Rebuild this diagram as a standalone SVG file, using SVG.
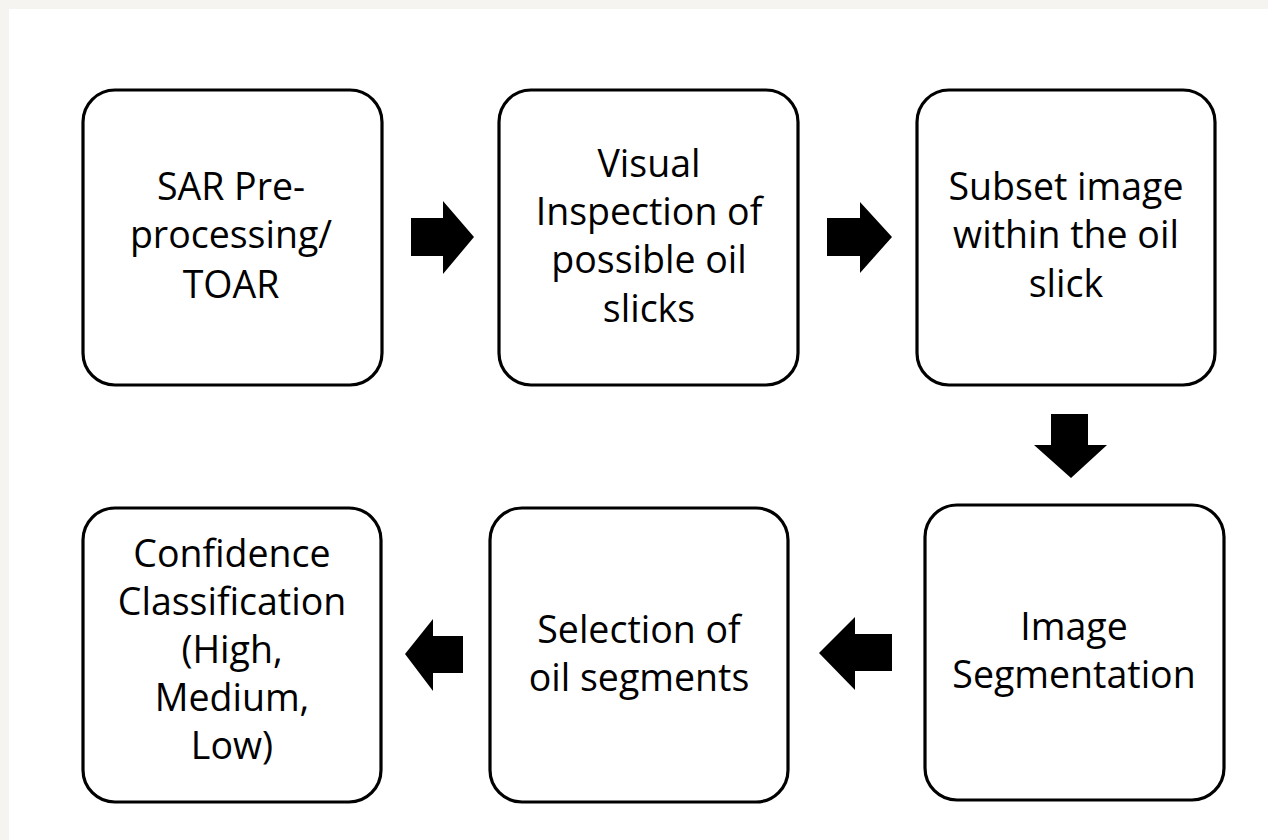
<svg xmlns="http://www.w3.org/2000/svg" width="1268" height="840" viewBox="0 0 1268 840">
<style>
.box{fill:#fff;stroke:#000;stroke-width:3.2}
.lbl{font-family:"Open Sans","Liberation Sans",sans-serif;font-size:37.5px;fill:#000;text-anchor:middle}
.arr{fill:#000}
</style>
<rect x="0" y="0" width="1268" height="840" fill="#f5f4f0"/>
<rect x="9" y="9" width="1259" height="831" fill="#fff"/>
<g id="n1"><rect class="box" x="83" y="90" width="299" height="295" rx="32"/>
<text class="lbl"><tspan x="231" y="200">SAR Pre-</tspan><tspan x="231" y="248">processing/</tspan><tspan x="231" y="298">TOAR</tspan></text></g>
<g id="n2"><rect class="box" x="499" y="90" width="299" height="295" rx="32"/>
<text class="lbl"><tspan x="649" y="177">Visual</tspan><tspan x="649" y="225">Inspection of</tspan><tspan x="649" y="273">possible oil</tspan><tspan x="649" y="322">slicks</tspan></text></g>
<g id="n3"><rect class="box" x="917" y="90" width="298" height="295" rx="32"/>
<text class="lbl"><tspan x="1066" y="200">Subset image</tspan><tspan x="1066" y="248">within the oil</tspan><tspan x="1066" y="297">slick</tspan></text></g>
<g id="n4"><rect class="box" x="925" y="505" width="299" height="295" rx="32"/>
<text class="lbl"><tspan x="1074" y="640">Image</tspan><tspan x="1074" y="688">Segmentation</tspan></text></g>
<g id="n5"><rect class="box" x="490" y="508" width="298" height="294" rx="32"/>
<text class="lbl"><tspan x="639" y="643">Selection of</tspan><tspan x="639" y="691">oil segments</tspan></text></g>
<g id="n6"><rect class="box" x="83" y="508" width="298" height="294" rx="32"/>
<text class="lbl"><tspan x="232" y="567">Confidence</tspan><tspan x="232" y="615">Classification</tspan><tspan x="232" y="663">(High,</tspan><tspan x="232" y="711">Medium,</tspan><tspan x="232" y="759">Low)</tspan></text></g>
<g id="connectors">
<polygon class="arr" points="411,218 443,218 443,201 474,237 443,274 443,256 411,256"/>
<polygon class="arr" points="827,218 860,218 860,202 892,237 860,273 860,256 827,256"/>
<polygon class="arr" points="1051,414 1088,414 1088,445 1107,445 1071,478 1034,445 1051,445"/>
<polygon class="arr" points="892,634 855,634 855,617 819,653 855,690 855,671 892,671"/>
<polygon class="arr" points="463,636 433,636 433,619 405,654 433,691 433,673 463,673"/>
</g>
</svg>
